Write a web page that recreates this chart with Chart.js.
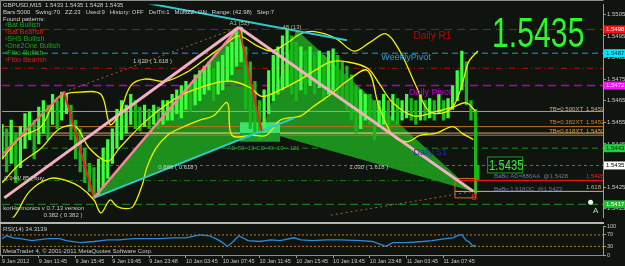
<!DOCTYPE html>
<html>
<head>
<meta charset="utf-8">
<script src="https://cdn.jsdelivr.net/npm/chart.js@4.4.1/dist/chart.umd.min.js"></script>
<style>
html, body { margin: 0; padding: 0; background: #0f140f; }
#wrap { position: relative; width: 625px; height: 266px; overflow: hidden; }
#mainBox { position: absolute; left: 0; top: 0; width: 625px; height: 222px; }
#rsiBox { position: absolute; left: 0; top: 222px; width: 625px; height: 44px; }
</style>
</head>
<body>
<div id="wrap">
  <div id="mainBox"><canvas id="mainChart" width="625" height="222"></canvas></div>
  <div id="rsiBox"><canvas id="rsiChart" width="625" height="44"></canvas></div>
</div>
<script>
// ---- price bars (every 2nd M15 bar) ----
const barIndex = [0,2,4,6,8,10,12,14,16,18,20,22,24,26,28,30,32,34,36,38,40,42,44,46,48,50,52,54,56,58,
  60,62,64,66,68,70,72,74,76,78,80,82,84,86,88,90,92,94,96,98,100,102,104,106,108,110,112,114,116,118,
  120,122,124,126,128,130,132,134,136,138,140,142,144,146,148,150,152,154,156,158,160,162,164,166,168,
  170,172,174,176,178,180,182,184,186,188,190,192,194,196,198,200,202,204,206,207];
const barHigh = [1.5454,1.5452,1.5456,1.5450,1.5453,1.5459,1.5460,1.5456,1.5462,1.5465,
  1.5463,1.5468,1.5465,1.5469,1.5468,1.5463,1.5456,1.5452,1.5443,1.5436,
  1.5434,1.5438,1.5443,1.5447,1.5452,1.5461,1.5465,1.5463,1.5468,1.5465,
  1.5462,1.5463,1.5461,1.5463,1.5462,1.5465,1.5465,1.5468,1.5470,1.5472,
  1.5474,1.5472,1.5477,1.5479,1.5481,1.5483,1.5480,1.5483,1.5486,1.5490,
  1.5492,1.5497,1.5499,1.5490,1.5483,1.5474,1.5465,1.5470,1.5479,1.5486,
  1.5490,1.5495,1.5498,1.5495,1.5492,1.5490,1.5488,1.5490,1.5486,1.5488,
  1.5486,1.5488,1.5489,1.5486,1.5483,1.5481,1.5477,1.5472,1.5470,1.5468,
  1.5468,1.5465,1.5465,1.5468,1.5465,1.5468,1.5466,1.5465,1.5468,1.5466,
  1.5465,1.5468,1.5465,1.5466,1.5465,1.5468,1.5465,1.5466,1.5472,1.5479,
  1.5488,1.5483,1.5465,1.5461,1.5435];
const barLow = [1.5438,1.5432,1.5436,1.5427,1.5434,1.5443,1.5447,1.5438,1.5445,1.5450,
  1.5447,1.5454,1.5452,1.5456,1.5459,1.5447,1.5438,1.5432,1.5427,1.5423,
  1.5420,1.5421,1.5425,1.5429,1.5436,1.5443,1.5447,1.5450,1.5454,1.5452,
  1.5451,1.5453,1.5452,1.5454,1.5452,1.5454,1.5456,1.5456,1.5459,1.5457,
  1.5461,1.5460,1.5463,1.5465,1.5468,1.5470,1.5465,1.5468,1.5470,1.5474,
  1.5477,1.5481,1.5483,1.5461,1.5452,1.5450,1.5447,1.5452,1.5459,1.5465,
  1.5468,1.5470,1.5472,1.5468,1.5465,1.5470,1.5468,1.5472,1.5468,1.5471,
  1.5465,1.5468,1.5470,1.5468,1.5465,1.5461,1.5456,1.5450,1.5452,1.5456,
  1.5454,1.5447,1.5453,1.5454,1.5452,1.5456,1.5454,1.5456,1.5457,1.5456,
  1.5454,1.5456,1.5456,1.5457,1.5456,1.5459,1.5456,1.5457,1.5461,1.5465,
  1.5470,1.5463,1.5456,1.5422,1.5428];
const lastClose = 1.5435;

// ---- envelope lines (yellow) ----
const upperBar = [0,8,17,23,27,34,43,47,51,56,62,71,80,88,97,103,110,117,123,130,136,145,153,160,167,173,180,185,190,196,200,203,207];
const upperPrice = [1.5438,1.5448,1.5453,1.5465,1.5468,1.5469,1.5468,1.5454,1.5459,1.5472,1.5475,1.5474,1.5478,1.5484,1.5491,1.5495,1.5491,1.5488,1.5491,1.5496,1.5497,1.5494,1.5488,1.5492,1.5496,1.5488,1.5472,1.5461,1.5459,1.5462,1.5472,1.5483,1.5488];
const midBar = [0,8,17,25,32,38,46,51,63,77,92,100,108,113,121,130,136,143,150,159,164,170,179,189,196,202,206];
const midPrice = [1.5427,1.5436,1.5443,1.5452,1.5453,1.5443,1.5437,1.5443,1.5456,1.5467,1.5473,1.5474,1.5471,1.5467,1.5470,1.5475,1.5479,1.5483,1.5483,1.5480,1.5473,1.5464,1.5458,1.5460,1.5462,1.5464,1.5460];
const lowerBar = [1,5,12,21,28,34,40,43,47,50,54,57,61,63,67,72,77,86,92,98,100,109,115,121,130,135,143,150,159,164,170,176,182,189,196,200,205];
const lowerPrice = [1.5410,1.5411,1.5423,1.5429,1.5428,1.5425,1.5419,1.5413,1.5419,1.5416,1.5415,1.5416,1.5426,1.5434,1.5443,1.5449,1.5452,1.5456,1.5458,1.5464,1.5449,1.5449,1.5449,1.5456,1.5458,1.5462,1.5468,1.5474,1.5479,1.5462,1.5449,1.5446,1.5449,1.5450,1.5453,1.5450,1.5447];

// ---- harmonic pattern points [bar, price] ----
const ptX = [40, 1.5420];
const ptA = [103, 1.5499];
const ptB = [113, 1.5451];
const ptC = [128, 1.5498];
const ptD = [205, 1.5423];
const ptSwingLow = [0, 1.5440];
const ptSwingHigh = [27, 1.5469];
const ptPinkStart = [1, 1.5420];
const ptCyanEnd = [127, 1.5457];
const ptTopStart = [64, 1.5510];
const ptTopEnd = [150, 1.5493];
const ptDotStart = [143, 1.5412];

// ---- horizontal levels ----
const levelPrices = [1.5498, 1.5487, 1.5480, 1.5472, 1.5460, 1.5453, 1.5450, 1.5449, 1.5443, 1.5435, 1.5428, 1.5417];
const levelColors = ['#b01010','#2a9ad8','#b01010','#b000b0','#a89898','#c07020','#c0a890','#c07020','#1f8f1f','#6a6a6a','#1f7a1f','#1f8f1f'];
const levelDash = [[8,5],[6,4],[6,3,1,3],[8,5],[],[],[],[],[6,4],[3,3],[6,3,1,3],[8,4]];
const boxPrices = [1.5498, 1.5487, 1.5472, 1.5443, 1.5435, 1.5417];
const boxFill = ['#ff1010','#00e8ff','#ff10ff','#22cc44','#ffffff','#22bb33'];
const boxText = ['#ffffff','#002030','#ffffff','#003000','#000000','#ffffff'];
const priceTicks = [1.5505,1.5495,1.5485,1.5475,1.5465,1.5455,1.5445,1.5435,1.5425,1.5415];

// ---- RSI(14) ----
const rsiBar = [0,2,5,8,13,20,25,28,34,40,46,51,57,63,69,74,80,86,90,93,96,98,100,103,107,112,117,121,127,130,135,141,147,156,161,167,170,176,183,187,193,196,199,200,202,203,205,206];
const rsiValue = [57,67,60,57,50,57,57,50,43,47,53,53,57,57,57,60,60,70,67,57,43,30,43,67,50,47,53,50,60,53,50,53,53,50,47,30,43,43,47,50,57,60,70,70,50,47,30,34.3];
const rsiLevels = [70, 30];

// ---- time axis ----
const timeTickBars = [0,16,32,48,64,80,96,112,128,144,160,176,192];
const timeLabels = ['9 Jan 2012','9 Jan 11:45','9 Jan 15:45','9 Jan 19:45','9 Jan 23:48','10 Jan 03:45','10 Jan 07:45','10 Jan 11:45','10 Jan 15:45','10 Jan 19:45','10 Jan 23:48','11 Jan 03:45','11 Jan 07:45'];

const X_MAX = 261.4;
const FONT = '"Liberation Sans", Arial, sans-serif';
const TRI_GREEN = '#1d8f1d';

function pts(list) { return list.map(p => ({ x: p[0], y: p[1] })); }
function lineSet(points, color, width, dash, order, extra) {
  return Object.assign({
    type: 'line', data: pts(points), borderColor: color, borderWidth: width,
    borderDash: dash || [], pointRadius: 0, tension: 0, fill: false, order: order
  }, extra || {});
}

const datasets = [];
function add(ds) { datasets.push(ds); return datasets.length - 1; }

// green pattern triangles
const tri1Low = add(lineSet([ptX, ptB], 'rgba(0,0,0,0)', 0, null, 10));
add(lineSet([ptX, ptA, ptB], 'rgba(0,0,0,0)', 0, null, 10, { fill: { target: tri1Low }, backgroundColor: TRI_GREEN }));
const tri2Low = add(lineSet([ptB, ptD], 'rgba(0,0,0,0)', 0, null, 10));
add(lineSet([ptB, ptC, ptD], 'rgba(0,0,0,0)', 0, null, 10, { fill: { target: tri2Low }, backgroundColor: TRI_GREEN }));

// levels
levelPrices.forEach((p, i) => {
  add(lineSet([[0, p], [X_MAX, p]], levelColors[i], i === 3 ? 1.5 : 1, levelDash[i], 8));
});
add(lineSet([[64, 1.5460], [180, 1.5460]], '#c8e040', 1, null, 8));
add(lineSet([[60, 1.5450], [185, 1.5450]], '#c8e040', 1, null, 8));
add(lineSet([[197, 1.5428], [X_MAX, 1.5428]], '#e01010', 1.5, null, 3));
add(lineSet([[197, 1.5423], [X_MAX, 1.5423]], '#c8b48c', 1, null, 3));

// highlight box near B
const boxBottom = add(lineSet([[103.5, 1.5446], [121, 1.5446]], 'rgba(0,0,0,0)', 0, null, 7));
const boxMid = add(lineSet([[103.5, 1.5450], [121, 1.5450]], 'rgba(0,0,0,0)', 0, null, 7, { fill: { target: boxBottom }, backgroundColor: '#1f9a30' }));
add(lineSet([[103.5, 1.5455], [121, 1.5455]], 'rgba(0,0,0,0)', 0, null, 7, { fill: { target: boxMid }, backgroundColor: '#3ee070' }));

// price bars
const barColors = barIndex.map((b, i) => {
  if (i === 0) return '#3cff3c';
  const m = barHigh[i] + barLow[i], pm = barHigh[i - 1] + barLow[i - 1];
  return m >= pm ? '#3cff3c' : '#18b818';
});
add({
  type: 'bar',
  data: barIndex.map((b, i) => ({ x: b, y: [barLow[i], barHigh[i]] })),
  backgroundColor: barColors, borderWidth: 0, barThickness: 2.6, grouped: false, order: 6
});

// envelopes
add(lineSet(upperBar.map((b, i) => [b, upperPrice[i]]), '#f2f200', 1.3, null, 4, { tension: 0.35 }));
add(lineSet(midBar.map((b, i) => [b, midPrice[i]]), '#f2f200', 1.3, null, 4, { tension: 0.35 }));
add(lineSet(lowerBar.map((b, i) => [b, lowerPrice[i]]), '#f2f200', 1.3, null, 4, { tension: 0.35 }));

// pattern legs
add(lineSet([ptPinkStart, ptA], '#f5b0c0', 3, null, 2));
add(lineSet([ptA, ptD], '#f5b0c0', 3, null, 2));
add(lineSet([ptX, ptA], '#f08890', 2.5, null, 2));
add(lineSet([ptSwingLow, ptSwingHigh], '#e87070', 2, null, 2));
add(lineSet([ptSwingHigh, ptX], '#ee2020', 2, null, 2));
add(lineSet([ptA, ptB], '#ee2020', 2, null, 2));
add(lineSet([ptX, ptCyanEnd], '#30c8c8', 2, null, 2));
add(lineSet([ptTopStart, ptTopEnd], '#30c8d0', 2, null, 2));
add(lineSet([ptSwingHigh, ptA], '#b0602a', 1, [2, 3], 2));
add(lineSet([ptDotStart, ptD], '#b0602a', 1, [2, 3], 2));
add(lineSet([[197, 1.5429], [206, 1.5429], [206, 1.5420], [197, 1.5420], [197, 1.5429]], '#d07020', 1, null, 2));

const notes = [
  { t: 'A1 (52)', bar: 99, p: 1.5501, c: '#c9b58d', f: '6px' },
  { t: '48 (13)', bar: 122, p: 1.5499, c: '#c9b58d', f: '6px' },
  { t: '1.620 ( 1.618 )', bar: 57, p: 1.5483, c: '#c8c8c8', f: '6px' },
  { t: '0.886 ( 0.618 )', bar: 68, p: 1.5434, c: '#c8c8c8', f: '6px' },
  { t: '1.030 ( 1.618 )', bar: 151, p: 1.5434, c: '#c8c8c8', f: '6px' },
  { t: '0.382 ( 0.382 )', bar: 18, p: 1.5412, c: '#c8c8c8', f: '6px' },
  { t: 'korHarmonics v 0.7.13 version', bar: 0.5, p: 1.5415, c: '#c8c8c8', f: '6px' },
  { t: '0.944/.854 buy', bar: 1, p: 1.5429, c: '#c8c8c8', f: '6px' },
  { t: 'AD-50  13-CD-40  10---121', bar: 98, p: 1.5443, c: '#3aa03a', f: '6px' },
  { t: 'Daily R1', bar: 179, p: 1.5495, c: '#c80000', f: '10px' },
  { t: 'WeeklyPivot', bar: 165, p: 1.5485, c: '#2a9ad8', f: '9px' },
  { t: 'Daily Pivot', bar: 177, p: 1.5469, c: '#c000c0', f: '9px' },
  { t: 'Daily S1', bar: 179, p: 1.5441, c: '#20309a', f: '9px' },
  { t: 'BaBu AD=886AA  @1.5428', bar: 214, p: 1.5430, c: '#6878a0', f: '6px' },
  { t: 'BaBu 1.618OC  @1.5423', bar: 214, p: 1.5424, c: '#6878a0', f: '6px' },
  { t: 'TB=0.500XT', bar: 238, p: 1.5461, c: '#c8b48c', f: '6px' },
  { t: '1.5459', bar: 254, p: 1.5461, c: '#c8b48c', f: '6px' },
  { t: 'TB=0.382XT', bar: 238, p: 1.5455, c: '#d08030', f: '6px' },
  { t: '1.5452', bar: 254, p: 1.5455, c: '#d08030', f: '6px' },
  { t: 'TB=0.618XT', bar: 238, p: 1.5451, c: '#d0a030', f: '6px' },
  { t: '1.5450', bar: 254, p: 1.5451, c: '#d0a030', f: '6px' },
  { t: '1.5428', bar: 254, p: 1.5430, c: '#ff2020', f: '6px' },
  { t: '1.618', bar: 254, p: 1.5425, c: '#c8b48c', f: '6px' },
  { t: 'S', bar: 204, p: 1.5420, c: '#ff1010', f: 'bold 9px' },
  { t: 'A', bar: 257, p: 1.5414, c: '#d0d0d0', f: '8px' }
];

const header = [
  { t: 'GBPUSD,M15  1.5433 1.5435 1.5428 1.5435', y: 5, c: '#d0d0d0' },
  { t: 'Bars:5000   Swing:70   ZZ:23   Used:9   History: OFF   DelTri:1   MultiZZ: ON   Range: (42.98)   Step:7', y: 12, c: '#d0d0d0' },
  { t: 'Found patterns:', y: 19, c: '#d0d0d0' }
];
const patterns = [['Bat Bullish', true], ['Bat Bearish', false], ['SHS Bullish', true], ['One2One Bullish', true], ['Fibo Bullish', true], ['Fibo Bearish', false]];

const overlayPlugin = {
  id: 'overlay',
  afterDraw(chart) {
    const { ctx, chartArea: a, scales: { x, y } } = chart;
    ctx.save();
    ctx.strokeStyle = '#8c8c8c';
    ctx.lineWidth = 1;
    ctx.beginPath();
    ctx.moveTo(0.5, 222); ctx.lineTo(0.5, 0.5); ctx.lineTo(a.right + 0.5, 0.5);
    ctx.stroke();

    ctx.textBaseline = 'middle';
    ctx.textAlign = 'left';
    notes.forEach(n => {
      ctx.font = n.f + ' ' + FONT;
      ctx.fillStyle = n.c;
      ctx.fillText(n.t, x.getPixelForValue(n.bar), y.getPixelForValue(n.p));
    });

    ctx.font = '6px ' + FONT;
    header.forEach(h => { ctx.fillStyle = h.c; ctx.fillText(h.t, 3, h.y); });
    ctx.font = '7px ' + FONT;
    patterns.forEach((p, i) => {
      ctx.fillStyle = p[1] ? '#1ea01e' : '#e01818';
      ctx.fillText('\u2039' + p[0], 5, 25 + i * 7);
    });

    // white marker
    ctx.fillStyle = '#f0f0f0';
    ctx.beginPath();
    ctx.arc(x.getPixelForValue(256), y.getPixelForValue(1.5418), 2.5, 0, Math.PI * 2);
    ctx.fill();

    // big last price
    ctx.save();
    ctx.translate(492, 47);
    ctx.scale(0.72, 1);
    ctx.textBaseline = 'alphabetic';
    ctx.font = '42px ' + FONT;
    ctx.fillStyle = '#2ef52e';
    ctx.fillText(lastClose.toFixed(4), 0, 0);
    ctx.restore();

    // framed last price
    const by = y.getPixelForValue(lastClose);
    const bx = x.getPixelForValue(211);
    ctx.strokeStyle = '#1a9a1a';
    ctx.lineWidth = 1;
    ctx.strokeRect(bx + 0.5, by - 8.5, 35, 16);
    ctx.save();
    ctx.translate(bx + 2, by + 5);
    ctx.scale(0.8, 1);
    ctx.textBaseline = 'alphabetic';
    ctx.font = '14px ' + FONT;
    ctx.fillStyle = '#33ee33';
    ctx.fillText(lastClose.toFixed(4), 0, 0);
    ctx.restore();

    // axis price boxes
    ctx.font = '6px ' + FONT;
    ctx.textBaseline = 'middle';
    boxPrices.forEach((p, i) => {
      const py = y.getPixelForValue(p);
      ctx.fillStyle = boxFill[i];
      ctx.fillRect(a.right + 1, py - 4, 21, 8);
      ctx.fillStyle = boxText[i];
      ctx.fillText(p.toFixed(4), a.right + 3, py);
    });
    ctx.restore();
  }
};

new Chart(document.getElementById('mainChart'), {
  type: 'line',
  data: { datasets: datasets },
  options: {
    responsive: false,
    animation: false,
    devicePixelRatio: 1,
    layout: { padding: { left: 2, top: 2, bottom: 1, right: 0 } },
    plugins: { legend: { display: false }, tooltip: { enabled: false } },
    scales: {
      x: { type: 'linear', min: 0, max: X_MAX, display: false, offset: false },
      y: {
        position: 'right',
        min: 1.541095,
        max: 1.55095,
        afterFit(s) { s.width = 22; },
        afterBuildTicks(s) { s.ticks = priceTicks.map(v => ({ value: v })); },
        ticks: {
          color: '#c8c8c8', autoSkip: false, padding: 1,
          font: { size: 6, family: FONT },
          callback: v => Number(v).toFixed(4)
        },
        grid: { drawOnChartArea: false, color: '#9a9a9a', tickLength: 3 },
        border: { color: '#9a9a9a' }
      }
    }
  },
  plugins: [overlayPlugin]
});

const rsiOverlay = {
  id: 'rsiOverlay',
  afterDraw(chart) {
    const { ctx, chartArea: a } = chart;
    ctx.save();
    ctx.fillStyle = '#b4b4b4';
    ctx.fillRect(0, 0, a.right + 1, 2);
    ctx.strokeStyle = '#8c8c8c';
    ctx.lineWidth = 1;
    ctx.beginPath();
    ctx.moveTo(0.5, 2); ctx.lineTo(0.5, a.bottom + 0.5); ctx.lineTo(a.right, a.bottom + 0.5);
    ctx.stroke();
    ctx.font = '6px ' + FONT;
    ctx.textBaseline = 'middle';
    ctx.fillStyle = '#c8c8c8';
    ctx.fillText('RSI(14) 34.3139', 3, 7);
    ctx.fillText('MetaTrader 4, \u00a9 2001-2011 MetaQuotes Software Corp.', 3, 29);
    ctx.restore();
  }
};

new Chart(document.getElementById('rsiChart'), {
  type: 'line',
  data: {
    datasets: [
      { data: rsiBar.map((b, i) => ({ x: b, y: rsiValue[i] })), borderColor: '#2d88dc', borderWidth: 1.3, pointRadius: 0, tension: 0, fill: false },
      ...rsiLevels.map(v => ({ data: [{ x: 0, y: v }, { x: X_MAX, y: v }], borderColor: '#b8742c', borderWidth: 1, borderDash: [2, 2], pointRadius: 0, fill: false }))
    ]
  },
  options: {
    responsive: false,
    animation: false,
    devicePixelRatio: 1,
    layout: { padding: { left: 2, top: 3, right: 0, bottom: 0 } },
    plugins: { legend: { display: false }, tooltip: { enabled: false } },
    scales: {
      x: {
        type: 'linear', min: 0, max: X_MAX, offset: false,
        afterFit(s) { s.height = 11; },
        afterBuildTicks(s) { s.ticks = timeTickBars.map(v => ({ value: v })); },
        ticks: {
          color: '#c8c8c8', align: 'start', maxRotation: 0, autoSkip: false, padding: 0,
          font: { size: 5.5, family: FONT },
          callback: (v, i) => timeLabels[i]
        },
        grid: { drawOnChartArea: false, color: '#9a9a9a', tickLength: 3 },
        border: { color: '#9a9a9a' }
      },
      y: {
        position: 'right', min: 0, max: 100,
        afterFit(s) { s.width = 22; },
        afterBuildTicks(s) { s.ticks = [0, 30, 70, 100].map(v => ({ value: v })); },
        ticks: { color: '#c8c8c8', autoSkip: false, padding: 1, font: { size: 5.5, family: FONT } },
        grid: { drawOnChartArea: false, color: '#9a9a9a', tickLength: 3 },
        border: { color: '#9a9a9a' }
      }
    }
  },
  plugins: [rsiOverlay]
});
</script>
</body>
</html>
